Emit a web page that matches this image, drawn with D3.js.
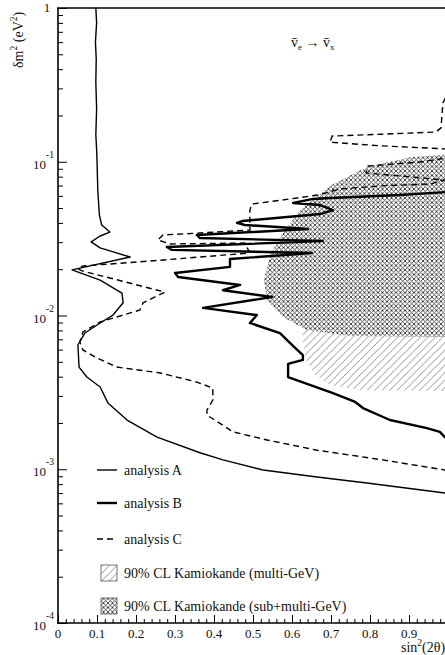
<!DOCTYPE html>
<html><head><meta charset="utf-8">
<script src="https://cdn.jsdelivr.net/npm/d3@7"></script>
<style>
html,body{margin:0;padding:0;background:#fff;overflow:hidden}
svg{display:block}
svg text{font-family:"Liberation Serif","DejaVu Serif",serif !important;fill:#111}
</style></head><body>
<svg id="c" width="445" height="655" font-family="Liberation Serif"></svg>
<script>
// ---- data: [sin^2(2theta), delta m^2 (eV^2)] ----
const analysisA = [[0.097,1],[0.099,0.8],[0.096,0.6],[0.098,0.47],[0.097,0.33],[0.099,0.22],[0.097,0.15],[0.099,0.12],[0.100,0.103],
 [0.102,0.0655],[0.106,0.0451],[0.112,0.0388],[0.133,0.0349],[0.108,0.0329],[0.085,0.0301],[0.108,0.0275],
 [0.185,0.0240],[0.036,0.0198],[0.108,0.0170],[0.164,0.0140],[0.167,0.0121],[0.141,0.01007],[0.108,0.00894],
 [0.069,0.00769],[0.051,0.00643],[0.054,0.00462],[0.074,0.00398],[0.108,0.00343],[0.128,0.00270],[0.177,0.00209],
 [0.254,0.00162],[0.364,0.00128],[0.423,0.00115],[0.526,0.000989],[0.664,0.000891],[0.792,0.000814],[0.992,0.000701],[1.0,0.00069]];
const analysisB = [[1.0,0.0636],[0.877,0.0608],[0.697,0.0581],[0.654,0.0573],[0.603,0.0539],[0.672,0.0523],[0.705,0.0485],
 [0.672,0.0457],[0.474,0.0412],[0.459,0.0400],[0.479,0.0388],[0.641,0.0365],[0.356,0.0334],[0.364,0.0319],[0.679,0.0305],
 [0.279,0.0279],[0.292,0.0267],[0.651,0.0255],[0.441,0.0233],[0.441,0.0207],[0.300,0.0189],[0.308,0.0178],[0.467,0.0158],
 [0.423,0.0146],[0.549,0.0132],[0.372,0.0112],[0.510,0.01007],[0.492,0.00894],[0.569,0.00769],[0.608,0.00615],[0.628,0.00553],
 [0.628,0.00514],[0.590,0.00484],[0.590,0.00398],[0.705,0.00313],[0.762,0.00274],[0.782,0.00250],[0.851,0.00209],
 [0.946,0.00185],[0.979,0.00175],[0.992,0.00162],[1.0,0.00155]];
const analysisC = [[1.0,1],[0.997,0.272],[0.987,0.241],[0.982,0.166],[0.969,0.156],[0.826,0.151],[0.703,0.147],[0.697,0.134],
 [0.826,0.127],[1.0,0.121],[1.0,0.106],[0.928,0.0996],[0.795,0.0938],[0.790,0.0845],[0.877,0.0808],[0.992,0.0761],
 [0.954,0.0717],[0.826,0.0696],[0.723,0.0665],[0.667,0.0608],[0.595,0.0573],[0.497,0.0531],[0.492,0.0485],[0.492,0.0360],
 [0.364,0.0344],[0.269,0.0334],[0.256,0.0310],[0.287,0.0292],[0.479,0.0296],[0.492,0.0255],[0.236,0.0226],[0.064,0.0210],
 [0.051,0.0201],[0.062,0.0195],[0.274,0.0142],[0.218,0.0121],[0.210,0.01086],[0.108,0.00907],[0.064,0.00781],[0.056,0.00673],
 [0.064,0.00597],[0.100,0.00529],[0.151,0.00462],[0.262,0.00423],[0.356,0.00369],[0.397,0.00337],[0.397,0.00282],
 [0.382,0.00243],[0.382,0.00225],[0.449,0.00175],[0.536,0.00155],[0.664,0.00133],[0.833,0.00115],[0.992,0.000989],[1.0,0.000985]];
const kamMulti = [[1.0,0.0564],[0.723,0.0523],[0.633,0.0267],[0.621,0.0126],[0.628,0.00693],[0.636,0.00514],[0.659,0.00410],
 [0.697,0.00353],[0.774,0.00327],[1.0,0.00323]];
const kamSubMulti = [[1.0,0.112],[0.903,0.107],[0.792,0.0924],[0.697,0.0696],[0.621,0.0485],[0.577,0.0344],[0.544,0.0247],
 [0.528,0.0170],[0.536,0.0126],[0.577,0.00977],[0.638,0.00805],[0.749,0.00736],[1.0,0.00725]];
const xTicks = [0,0.1,0.2,0.3,0.4,0.5,0.6,0.7,0.8,0.9];
const yMajor = [1,0.1,0.01,0.001,0.0001];
const yExp = ["", "-1","-2","-3","-4"];
const legendLabels = ["analysis A","analysis B","analysis C","90% CL Kamiokande (multi-GeV)","90% CL Kamiokande (sub+multi-GeV)"];

const FONT = "Liberation Serif";
const svg = d3.select("#c");
const x = d3.scaleLinear().domain([0,1]).range([58,448]);
const y = d3.scaleLog().domain([1e-4,1]).range([623,8]);

const defs = svg.append("defs");
const ph = defs.append("pattern").attr("id","hatch").attr("patternUnits","userSpaceOnUse").attr("width",7.5).attr("height",7.5);
ph.append("rect").attr("width",7.5).attr("height",7.5).attr("fill","#fff");
ph.append("path").attr("d","M0,7.5L7.5,0M-1,1L1,-1M6.5,8.5L8.5,6.5").attr("stroke","#777").attr("stroke-width",0.8);
const pc = defs.append("pattern").attr("id","cross").attr("patternUnits","userSpaceOnUse").attr("width",4.5).attr("height",4.5);
pc.append("rect").attr("width",4.5).attr("height",4.5).attr("fill","#fff");
pc.append("path").attr("d","M0,4.5L4.5,0M-1,1L1,-1M3.5,5.5L5.5,3.5M0,0L4.5,4.5M-1,3.5L1,5.5M3.5,-1L5.5,1").attr("stroke","#3a3a3a").attr("stroke-width",0.9);
defs.append("clipPath").attr("id","plot").append("rect").attr("x",58).attr("y",8).attr("width",390).attr("height",615);

const g = svg.append("g").attr("clip-path","url(#plot)");
const area = d3.line().x(d=>x(d[0])).y(d=>y(d[1]));
g.append("path").attr("d",area(kamMulti)+"Z").attr("fill","url(#hatch)").attr("stroke","none");
g.append("path").attr("d",area(kamSubMulti)+"Z").attr("fill","url(#cross)").attr("stroke","none");

const line = d3.line().x(d=>x(d[0])).y(d=>y(d[1]));
g.append("path").attr("d",line(analysisA)).attr("fill","none").attr("stroke","#000").attr("stroke-width",1.4).attr("stroke-linejoin","round");
g.append("path").attr("d",line(analysisC)).attr("fill","none").attr("stroke","#000").attr("stroke-width",1.4).attr("stroke-dasharray","6,4");
g.append("path").attr("d",line(analysisB)).attr("fill","none").attr("stroke","#000").attr("stroke-width",2.4).attr("stroke-linejoin","round");

// axes
const xAxis = d3.axisBottom(x).tickValues(d3.range(0,1.001,0.02)).tickSize(-4).tickFormat("");
svg.append("g").attr("transform","translate(0,623)").call(xAxis).call(s=>{s.select(".domain").remove();s.selectAll("line").attr("stroke","#000");});
const xAxisMaj = d3.axisBottom(x).tickValues(d3.range(0,1.001,0.1)).tickSize(-8).tickFormat("");
svg.append("g").attr("transform","translate(0,623)").call(xAxisMaj).call(s=>{s.select(".domain").remove();s.selectAll("line").attr("stroke","#000");});
const minorY = [];
[1e-4,1e-3,1e-2,1e-1].forEach(d=>{for(let k=2;k<=9;k++) minorY.push(d*k);});
const yAxisMin = d3.axisLeft(y).tickValues(minorY).tickSize(-5).tickFormat("");
svg.append("g").attr("transform","translate(58,0)").call(yAxisMin).call(s=>{s.select(".domain").remove();s.selectAll("line").attr("stroke","#000");});
const yAxisMaj = d3.axisLeft(y).tickValues(yMajor).tickSize(-9).tickFormat("");
svg.append("g").attr("transform","translate(58,0)").call(yAxisMaj).call(s=>{s.select(".domain").remove();s.selectAll("line").attr("stroke","#000");});

svg.append("line").attr("x1",58).attr("x2",58).attr("y1",y(1)).attr("y2",y(1e-4)).attr("stroke","#000").attr("stroke-width",1.6);
svg.append("line").attr("x1",57).attr("x2",448).attr("y1",y(1e-4)).attr("y2",y(1e-4)).attr("stroke","#000").attr("stroke-width",1.6);
svg.append("line").attr("x1",57).attr("x2",448).attr("y1",y(1)).attr("y2",y(1)).attr("stroke","#000").attr("stroke-width",1.6);

// tick labels
svg.selectAll(".xl").data(xTicks).enter().append("text").attr("font-family",FONT).attr("x",d=>x(d)).attr("y",638)
 .attr("text-anchor","middle").attr("font-size",13).text(d=>d===0?"0":d3.format(".1f")(d));
yMajor.forEach((v,i)=>{
  if(i===0){svg.append("text").attr("font-family",FONT).attr("x",47).attr("y",y(v)+4).attr("text-anchor","middle").attr("font-size",13).text("1");return;}
  svg.append("text").attr("font-family",FONT).attr("x",46).attr("y",y(v)+7).attr("text-anchor","end").attr("font-size",13).text("10");
  svg.append("text").attr("font-family",FONT).attr("x",46).attr("y",y(v)-4).attr("font-size",9.5).text(yExp[i]);
});

// axis titles
const xt = svg.append("text").attr("font-family",FONT).attr("x",401).attr("y",652).attr("font-size",14);
xt.append("tspan").text("sin");
xt.append("tspan").attr("dy",-6).attr("font-size",9.5).text("2");
xt.append("tspan").attr("dy",6).text("(2θ)");
const yt = svg.append("text").attr("font-family",FONT).attr("transform","translate(23,68) rotate(-90)").attr("font-size",14);
yt.append("tspan").text("δm");
yt.append("tspan").attr("dy",-6).attr("font-size",9.5).text("2");
yt.append("tspan").attr("dy",6).text(" (eV");
yt.append("tspan").attr("dy",-6).attr("font-size",9.5).text("2");
yt.append("tspan").attr("dy",6).text(")");

// process label
const pt = svg.append("text").attr("font-family",FONT).attr("x",291).attr("y",47).attr("font-size",14);
pt.append("tspan").text("v\u0304");
pt.append("tspan").attr("dy",3).attr("font-size",9).text("e");
pt.append("tspan").attr("dy",-3).text(" \u2192 ");
pt.append("tspan").text("v\u0304");
pt.append("tspan").attr("dy",3).attr("font-size",9).text("x");

// legend
const ly = [470,503,539,573,606];
const lg = svg.append("g");
lg.append("line").attr("x1",97).attr("x2",117).attr("y1",ly[0]).attr("y2",ly[0]).attr("stroke","#000").attr("stroke-width",1.4);
lg.append("line").attr("x1",97).attr("x2",117).attr("y1",ly[1]).attr("y2",ly[1]).attr("stroke","#000").attr("stroke-width",2.4);
lg.append("line").attr("x1",97).attr("x2",117).attr("y1",ly[2]).attr("y2",ly[2]).attr("stroke","#000").attr("stroke-width",1.4).attr("stroke-dasharray","6,4");
lg.append("rect").attr("x",101).attr("y",ly[3]-8).attr("width",16).attr("height",16).attr("fill","url(#hatch)").attr("stroke","#555").attr("stroke-width",0.8);
lg.append("rect").attr("x",101).attr("y",ly[4]-8).attr("width",16).attr("height",16).attr("fill","url(#cross)").attr("stroke","#555").attr("stroke-width",0.8);
lg.selectAll(".lt").data(legendLabels).enter().append("text").attr("font-family",FONT).attr("x",124).attr("y",(d,i)=>ly[i]+5)
 .attr("font-size",14).text(d=>d);
</script>
</body></html>
